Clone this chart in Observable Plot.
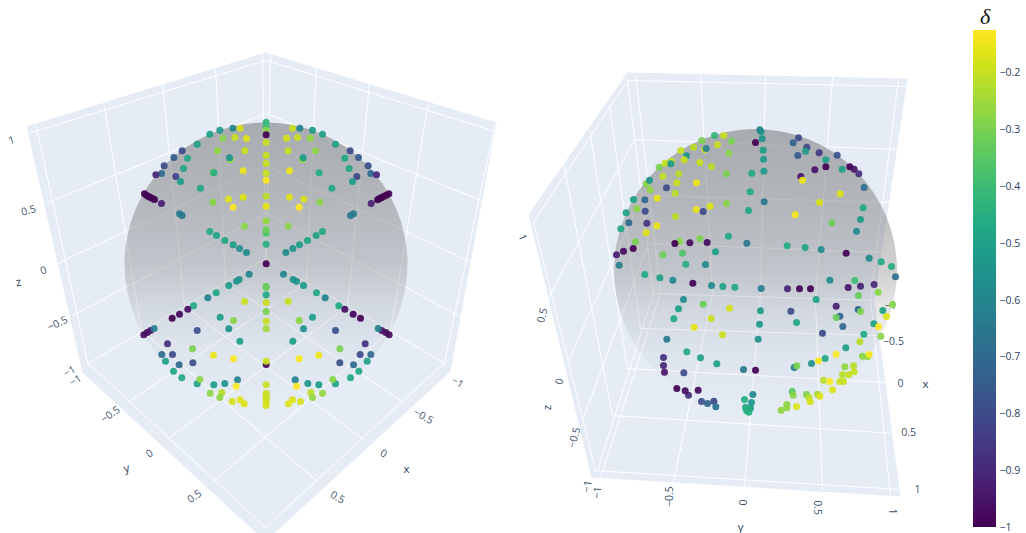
<!DOCTYPE html>
<html>
<head>
<meta charset="utf-8">
<script src="https://cdn.jsdelivr.net/npm/d3@7"></script>
<script src="https://cdn.jsdelivr.net/npm/@observablehq/plot@0.6"></script>
<style>html,body{margin:0;padding:0;background:#fff}#chart{position:relative;width:1026px;height:533px;overflow:hidden}#chart svg{position:absolute;top:0;background:transparent}</style>
</head>
<body>
<div id="chart"></div>
<script>
// Scene readings: each dot is [u, v, delta] (three units = one picture pixel)
const leftNorthWest = [[638,396,-.3],[697,263,-.6],[719,263,-.18],[658,269,-.52],[628,281,-.5],[667,293,-.28],[703,291,-.2],[738,294,-.17],[590,311,-.5],[545,331,-.8],[520,351,-.75],[561,353,-.48],[651,331,-.27],[733,331,-.2],[689,357,-.27],[687,352,-.55],[491,376,-.8],[549,384,-.48],[483,399,-.7],[466,403,-.9],[526,408,-.82],[540,423,-.52],[640,397,-.45],[728,391,-.15],[600,443,-.48],[432,460,-1],[438,464,-1],[444,468,-1],[450,471,-1],[456,474,-1],[462,477,-1],[483,489,-.92],[637,485,-.28],[684,476,-.17],[728,470,-.17],[698,500,-.13],[537,520,-.65],[545,525,-.65],[732,557,-.28],[628,573,-.47],[648,585,-.5],[673,600,-.48],[698,613,-.52],[717,624,-.55],[738,636,-.58],[746,701,-.6],[716,717,-.55],[708,722,-.55],[685,735,-.52]];
const leftNorthEast = [[17,245,-.42],[17,258,-.4],[17,270,-.28],[17,306,-.2],[17,283,-1],[17,345,-.2],[17,369,-.2],[17,398,-.2],[17,419,-.13],[17,467,-.22],[17,497,-.16],[17,541,-.27],[17,578,-.37],[17,567,-.32],[17,611,-.45],[17,670,-1],[17,738,-.33],[96,263,-.2],[118,263,-.6],[156,269,-.52],[186,281,-.5],[78,293,-.18],[111,291,-.2],[149,293,-.27],[225,311,-.5],[269,331,-.8],[294,351,-.75],[253,353,-.48],[83,331,-.2],[165,331,-.27],[126,357,-.27],[128,352,-.52],[323,376,-.8],[266,384,-.48],[331,399,-.7],[348,403,-.9],[289,408,-.82],[276,423,-.52],[176,397,-.45],[87,391,-.15],[214,443,-.48],[385,460,-1],[377,464,-1],[369,468,-1],[362,472,-1],[356,475,-1],[351,478,-1],[332,489,-.92],[178,485,-.28],[130,476,-.18],[87,470,-.17],[116,500,-.13],[279,520,-.65],[270,525,-.65],[83,557,-.28],[186,573,-.47],[167,585,-.5],[141,600,-.48],[117,613,-.52],[97,624,-.55],[76,636,-.58],[69,701,-.6],[98,717,-.55],[108,722,-.55],[129,735,-.52]];
const leftSouthWest = [[647,22,-.48],[622,37,-.62],[579,61,-.47],[562,71,-.97],[537,86,-.98],[515,98,-1],[430,148,-.97],[440,141,-.97],[450,135,-.95],[461,129,-.62],[732,48,-.2],[659,95,-.52],[699,105,-.28],[590,135,-.78],[685,130,-.55],[718,167,-.5],[501,175,-.88],[576,190,-.3],[484,207,-.7],[516,207,-.8],[639,209,-.15],[699,220,-.13],[495,227,-.5],[536,238,-.7],[577,232,-.78],[519,257,-.48],[544,277,-.48],[590,295,-.5],[598,282,-.28],[640,298,-.52],[673,294,-.55],[711,283,-.62],[707,302,-.13],[629,323,-.27],[664,321,-.22],[658,336,-.27],[695,348,-.18],[719,343,-.17],[731,355,-.17]];
const leftSouthEast = [[17,5,-.33],[17,28,-.47],[17,51,-.2],[17,78,-.3],[17,107,-.2],[17,130,-.25],[17,237,-1],[17,227,-.2],[17,298,-.2],[17,323,-.2],[17,332,-.2],[17,340,-.2],[17,350,-.18],[17,360,-.18],[168,22,-.48],[194,37,-.62],[235,61,-.47],[253,71,-.97],[278,86,-.98],[300,98,-1],[386,148,-.97],[376,141,-.97],[364,135,-.95],[353,129,-.62],[83,48,-.2],[156,95,-.52],[116,105,-.28],[225,135,-.78],[129,130,-.55],[97,167,-.5],[314,175,-.88],[238,190,-.3],[331,207,-.7],[299,207,-.8],[175,209,-.15],[116,220,-.13],[320,227,-.5],[279,238,-.7],[238,232,-.78],[295,257,-.48],[270,277,-.48],[225,295,-.5],[217,282,-.28],[175,298,-.52],[142,294,-.55],[104,283,-.62],[108,302,-.13],[186,323,-.27],[151,321,-.22],[156,336,-.27],[120,348,-.18],[96,343,-.17],[84,355,-.17]];
const rightNorthWest = [[612,225,-.42],[574,240,-.3],[549,260,-.22],[621,253,-.2],[511,270,-.2],[583,267,-.18],[587,264,-.62],[528,286,-.55],[483,302,-.2],[463,308,-.2],[481,310,-.52],[521,298,-.2],[568,306,-.2],[603,318,-.22],[446,320,-.3],[505,340,-.22],[457,347,-.2],[407,370,-.28],[417,359,-.55],[499,367,-.2],[558,367,-.15],[419,388,-.27],[468,382,-.8],[494,398,-.22],[440,413,-.16],[369,417,-.5],[403,418,-.7],[557,447,-.15],[599,437,-.17],[578,453,-.8],[347,457,-.5],[379,445,-.28],[404,452,-.8],[495,468,-.22],[355,487,-.7],[409,488,-.87],[331,505,-.48],[439,496,-.15],[407,517,-.17],[507,543,-.28],[493,549,-1],[538,547,-.97],[568,534,-.3],[590,546,-.97],[375,544,-.3],[368,564,-1],[339,572,-.97],[318,583,-.92],[457,583,-.32],[516,578,-.37],[615,574,-.5],[326,614,-.62],[526,611,-.45],[585,612,-.58],[403,642,-.47],[448,652,-.5],[487,659,-.58],[547,668,-1],[603,675,-.58]];
const rightNorthEast = [[10,225,-.2],[33,242,-.3],[122,214,-.52],[118,208,-.6],[125,235,-.55],[105,246,-1],[234,232,-.8],[218,247,-.72],[259,260,-.82],[255,272,-.52],[232,285,-.75],[296,277,-.85],[128,269,-.5],[129,296,-.52],[25,278,-.28],[316,298,-.5],[350,284,-.78],[316,319,-1],[283,328,-.95],[388,319,-1],[401,326,-.95],[415,340,-.88],[365,326,-.5],[130,332,-.52],[18,340,-.3],[94,338,-.47],[241,348,-.95],[246,359,-.15],[431,381,-.68],[89,394,-.47],[359,400,-.17],[18,429,-.28],[131,424,-.65],[297,426,-.18],[428,442,-.47],[84,450,-.48],[224,463,-.14],[420,477,-.52],[334,487,-.32],[408,512,-.58],[24,527,-.48],[79,548,-.65],[200,556,-.45],[254,561,-.48],[302,567,-.58],[377,578,-1],[446,593,-.58],[482,604,-.47],[513,618,-.45],[525,649,-.68],[328,659,-.58],[403,660,-.4],[461,672,-.9],[7,678,-.5],[43,680,-.47],[122,684,-.62],[201,685,-.92],[237,685,-1],[270,685,-1],[383,681,-.95],[420,677,-.92]];
const rightSouthWest = [[519,42,-.58],[578,56,-.32],[504,70,-.5],[490,100,-.47],[602,99,-.2],[551,125,-.16],[469,161,-.65],[529,199,-.47],[570,217,-.5],[619,235,-.5],[459,216,-.87],[459,240,-.9],[462,260,-.95],[520,262,-.8],[499,309,-1],[534,329,-.88],[524,316,-.97],[563,314,-.97],[573,348,-.78],[610,347,-.8],[591,354,-.72],[616,364,-.67]];
const rightSouthEast = [[473,20,-.28],[414,30,-.33],[287,42,-.5],[347,62,-.92],[516,57,-.28],[27,68,-.18],[120,76,-.52],[211,77,-.8],[413,72,-.72],[420,78,-.3],[487,75,-.5],[358,92,-.72],[347,96,-.32],[498,93,-.17],[117,116,-.52],[228,111,-.48],[367,123,-.7],[460,115,-.5],[474,124,-.13],[6,148,-.2],[113,161,-.55],[306,143,-.8],[430,146,-.47],[481,152,-.28],[418,169,-.22],[376,187,-.5],[347,206,-.13],[314,219,-.48],[294,226,-.14],[273,234,-.55],[426,212,-.28],[441,214,-.27],[446,207,-.14],[221,246,-.65],[229,241,-.3],[373,244,-.27],[399,241,-.22],[401,259,-.2],[385,268,-.2],[366,267,-.22],[69,252,-.65],[105,254,-1],[309,284,-.22],[328,288,-.13],[358,288,-.2],[369,288,-.2],[336,313,-.17],[215,318,-.35],[218,329,-.28],[258,327,-.3],[265,336,-.22],[291,326,-.25],[298,332,-.17],[269,349,-.18],[199,357,-.27],[199,367,-.27],[228,363,-.17],[182,374,-.27],[97,327,-.6],[93,351,-.55],[72,342,-.45],[90,368,-.52],[75,365,-.47],[78,375,-.45],[82,372,-.45],[85,380,-.45]];

// Scene outlines, gridlines and tick labels as seen in the picture
const leftPane = [[26,126],[265,52],[496,122],[450,371],[265,541],[82,372]];
const rightPane = [[627,72],[907,78],[874,300],[900,496],[591,477],[528,214]];
const leftGrid = [
  [35,122,88,366],[103,102,141,330],[162,83,184,306],[215,67,225,282],[262,53,265,258],
  [28,133,265,60],[45,203,265,113],[57,263,265,165],[72,315,265,213],[88,363,265,258],
  [495,122,443,366],[428,102,390,330],[369,83,347,306],[316,67,306,282],[270,53,266,258],
  [495,131,266,60],[488,203,266,113],[473,263,266,165],[462,317,266,213],[443,362,266,258],
  [403,402,225,282],[363,439,184,306],[317,481,141,330],[265,527,88,363],
  [127,402,306,282],[168,438,347,306],[213,481,390,330],[265,527,443,363]
];
const rightGrid = [
  [653,293,874,300],[640,328,878,335],[627,368,885,382],[612,415,895,433],[593,470,898,489],
  [600,477,660,292],[673,482,712,293],[744,487,760,295],[822,490,815,300],[890,495,870,298],
  [635,74,660,292],[700,74,712,293],[765,75,760,295],[832,77,815,300],[898,78,870,298],
  [627,80,905,86],[634,139,898,149],[642,195,890,202],[648,243,883,252],
  [627,80,532,223],[634,139,548,297],[642,195,568,360],[648,243,582,420],[653,293,597,470],
  [627,80,653,293],[609,105,640,328],[589,129,627,368],[563,163,612,415],[533,222,595,470]
];
const labelText = ["1","0.5","0","\u22120.5","\u22121","\u22121","\u22120.5","0","0.5","\u22121","\u22120.5","0","0.5",
  "1","0.5","0","\u22120.5","\u22121","\u22121","\u22120.5","0","0.5","1","\u22121","\u22120.5","0","0.5","1"];
const labelX = [11,28,43,57,69,75,110,149,194,457,423,383,337,522,542,559,574,587,597,669,742,817,892,890,893,900,908,917];
const labelY = [140,210,270,323,371,380,414,453,496,382,416,453,497,237,315,381,437,486,492,496,502,507,511,305,341,383,432,489];
const labelTurn = [-15,-15,-20,-25,-30,-30,-35,-35,-35,30,30,30,30,70,-75,-75,-75,-80,-85,-90,90,90,90,0,0,0,0,0];
const titleText = ["z","y","x","z","y","x"];
const titleX = [18,126,406,547,740,925];
const titleY = [282,468,469,407,527,384];
const titleTurn = [-10,-15,0,-90,0,0];
const colorbarTicks = [-0.2,-0.3,-0.4,-0.5,-0.6,-0.7,-0.8,-0.9,-1];
const deltaDomain = [-1,-0.125];
const sphereCentresX = [265.5,755];
const sphereCentresY = [263.5,270];

const crop = (x0,y0,rows) => rows.map(([u,v,delta]) => ({x:x0+u/3,y:y0+v/3,delta}));
const dots = [
  ...crop(0,40,leftNorthWest),...crop(260,40,leftNorthEast),...crop(0,285,leftSouthWest),...crop(260,285,leftSouthEast),
  ...crop(510,60,rightNorthWest),...crop(720,60,rightNorthEast),...crop(510,285,rightSouthWest),...crop(720,285,rightSouthEast)
];
const colorScale = {type:"linear",scheme:"viridis",domain:deltaDomain};
const ink = "#2a3f5f";
const pane = "#e5ecf6";
const segment = {x1:d=>d[0],y1:d=>d[1],x2:d=>d[2],y2:d=>d[3],stroke:"#fff",strokeWidth:1,strokeOpacity:.95};
const polygon = pts => Plot.line(pts,{x:d=>d[0],y:d=>d[1],fill:pane,stroke:null,curve:"linear-closed"});
const defs = () => {
  const g = d3.create("svg:defs");
  const lg = g.append("linearGradient").attr("id","sphereFade").attr("x1",0).attr("y1",0).attr("x2",0).attr("y2",1);
  [[0,.6],[.25,.5],[.38,.43],[.5,.36],[.63,.2],[.77,.08],[1,0]].forEach(([o,a]) =>
    lg.append("stop").attr("offset",o).attr("stop-color","#7f7f7f").attr("stop-opacity",a));
  return g.node();
};
const labels = labelText.map((text,i)=>({text,x:labelX[i],y:labelY[i],turn:labelTurn[i]}));
const titles = titleText.map((text,i)=>({text,x:titleX[i],y:titleY[i],turn:titleTurn[i]}));
const spheres = sphereCentresX.map((x,i)=>({x,y:sphereCentresY[i]}));

const scene = Plot.plot({
  width:1026,height:533,margin:0,
  style:{fontFamily:"'Open Sans',sans-serif",background:"transparent"},
  x:{domain:[0,1026],range:[0,1026],axis:null},
  y:{domain:[0,533],range:[0,533],axis:null},
  color:colorScale,
  marks:[
    defs,
    polygon(leftPane),polygon(rightPane),
    Plot.link(leftGrid,segment),Plot.link(rightGrid,segment),
    Plot.text(labels,{x:"x",y:"y",text:"text",rotate:"turn",fontSize:10.5,fill:ink,fillOpacity:.95}),
    Plot.text(titles,{x:"x",y:"y",text:"text",rotate:"turn",fontSize:11.5,fill:ink}),
    Plot.dot(spheres,{x:"x",y:"y",r:141.5,fill:"url(#sphereFade)",stroke:null}),
    Plot.dot(dots,{x:"x",y:"y",r:3.5,fill:"delta",fillOpacity:.93,stroke:null})
  ]
});
scene.style.left = "0px";

const steps = d3.range(deltaDomain[0],deltaDomain[1],0.003);
const bar = Plot.plot({
  width:66,height:533,marginLeft:13,marginRight:30,marginTop:30,marginBottom:6,
  style:{fontFamily:"'Open Sans',sans-serif",fontSize:"10.5px",background:"transparent",overflow:"visible"},
  x:{domain:[0,1],axis:null},
  y:{domain:deltaDomain,axis:null},
  color:colorScale,
  marks:[
    Plot.rect(steps,{x1:0,x2:1,y1:d=>d,y2:d=>Math.min(d+0.006,deltaDomain[1]),fill:d=>d,stroke:null,shapeRendering:"crispEdges",sort:{channel:"y1",order:"ascending"}}),
    Plot.axisY(colorbarTicks,{anchor:"right",tickSize:0,tickPadding:3,label:null,color:ink,tickFormat:d=>String(d).replace("-","\u2212")}),
    Plot.text(["\u03b4"],{frameAnchor:"top",dy:-14,lineAnchor:"middle",fontFamily:"'Liberation Serif',serif",fontStyle:"italic",fontSize:22,fill:"#111"})
  ]
});
bar.style.left = "960px";
document.getElementById("chart").append(scene,bar);
</script>
</body>
</html>
